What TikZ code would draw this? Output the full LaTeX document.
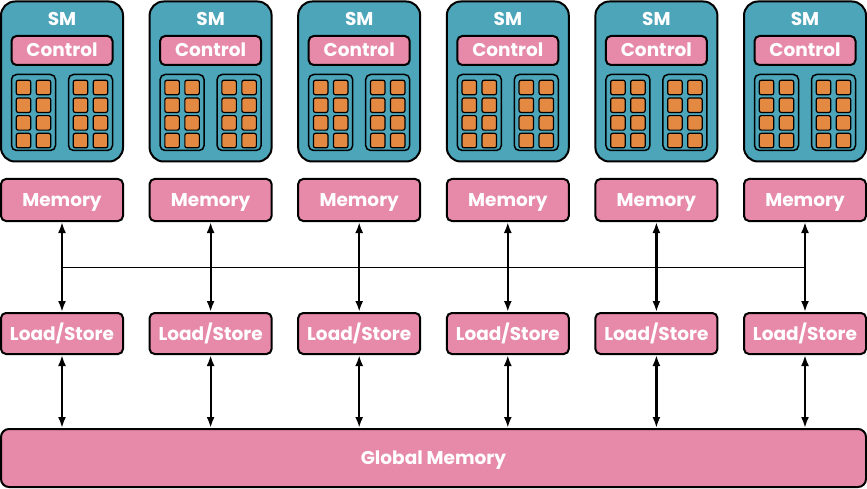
\documentclass[tikz,border=0pt]{standalone}
\usepackage{fontspec}
\setmainfont{Poppins}
\usetikzlibrary{arrows.meta}
\definecolor{smteal}{RGB}{76,165,185}
\definecolor{mempink}{RGB}{231,137,168}
\definecolor{coreorange}{RGB}{227,137,66}
\tikzset{
  smbox/.style={draw=black, line width=2pt, fill=smteal, rounded corners=14pt, minimum width=122pt, minimum height=160pt, inner sep=0pt},
  pinkbox/.style={draw=black, line width=2pt, fill=mempink, rounded corners=5pt, inner sep=0pt, text=white, font=\bfseries\fontsize{18.5}{18.5}\selectfont, text height=13pt, text depth=0pt},
  grpbox/.style={draw=black, line width=1.5pt, fill=smteal, rounded corners=5pt, minimum width=44pt, minimum height=76pt, inner sep=0pt},
  corebox/.style={draw=black, line width=1.2pt, fill=coreorange, rounded corners=2pt, minimum width=14.5pt, minimum height=14.5pt, inner sep=0pt},
  smlabel/.style={text=white, font=\bfseries\fontsize{18.5}{18.5}\selectfont, inner sep=0pt, text height=13pt, text depth=0pt},
  biarrow/.style={line width=2.2pt, {Latex[length=11pt,width=8pt]}-{Latex[length=11pt,width=8pt]}},
}
\begin{document}
\begin{tikzpicture}[x=1pt,y=-1pt]
\useasboundingbox (0,0) rectangle (867,489);
\foreach \i in {1,...,6} {
  \pgfmathsetmacro{\cx}{62+148.6*(\i-1)}
  \node[smbox] (sm\i) at (\cx,81.5) {};
  \node[smlabel] (smt\i) at (\cx,19.5) {SM};
  \node[pinkbox, minimum width=101pt, minimum height=29pt] (ctl\i) at (\cx,50.5) {Control};
  \node[grpbox] (gl\i) at (\cx-28.5,112.5) {};
  \node[grpbox] (gr\i) at (\cx+28.5,112.5) {};
  \foreach \r in {0,1,2,3} {
    \pgfmathsetmacro{\cy}{87.5+17.7*\r}
    \node[corebox] (cl\i a\r) at (\cx-38.5,\cy) {};
    \node[corebox] (cl\i b\r) at (\cx-18.5,\cy) {};
    \node[corebox] (cr\i a\r) at (\cx+18.5,\cy) {};
    \node[corebox] (cr\i b\r) at (\cx+38.5,\cy) {};
  }
  \node[pinkbox, minimum width=122pt, minimum height=42pt] (mem\i) at (\cx,200) {Memory};
  \node[pinkbox, minimum width=122pt, minimum height=41pt] (ls\i) at (\cx,333.5) {Load/Store};
}
\node[pinkbox, minimum width=865pt, minimum height=58pt, rounded corners=8pt] (gm) at (433.5,458) {Global Memory};
\foreach \i in {1,...,6} {
  \draw[biarrow] (mem\i.south) -- (ls\i.north);
  \draw[biarrow] (ls\i.south) -- (gm.north -| ls\i.south);
}
\coordinate (hla) at (62,267.5);
\coordinate (hlb) at (805,267.5);
\draw[line width=1.8pt] (hla) -- (hlb);
\end{tikzpicture}
\end{document}
